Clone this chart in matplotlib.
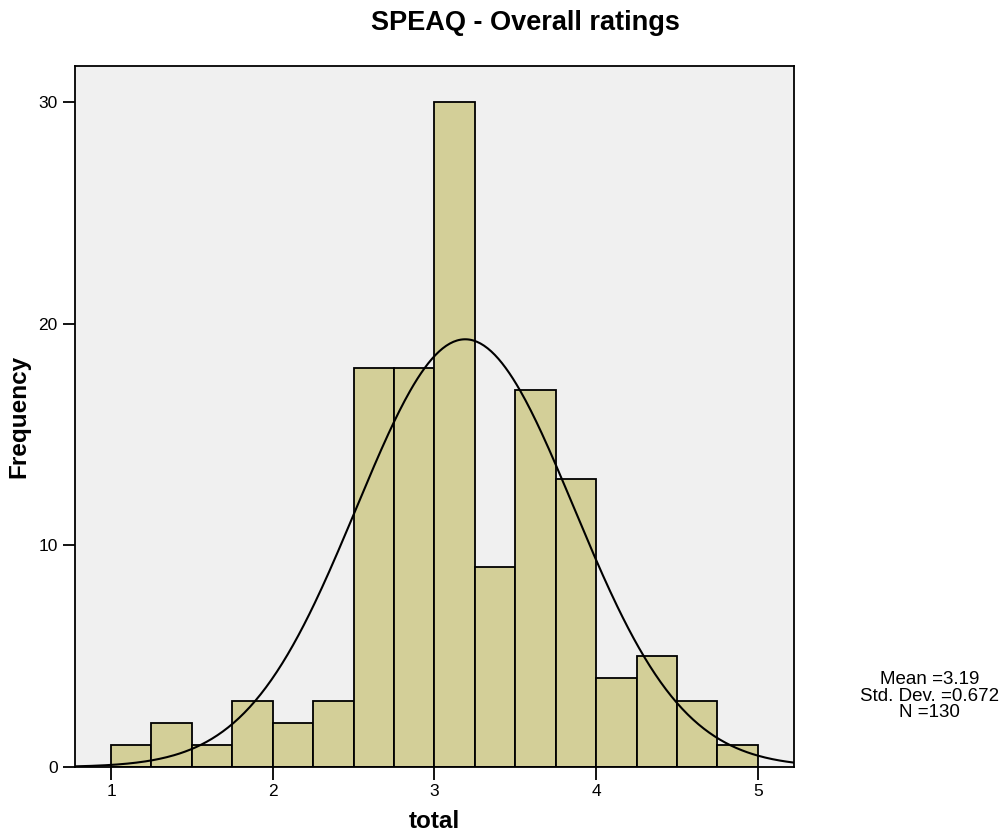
import numpy as np
import matplotlib
matplotlib.use("Agg")
import matplotlib.pyplot as plt

plt.rcParams['font.family'] = ['Liberation Sans', 'DejaVu Sans']

# histogram bins (width 0.25) and counts
bin_edges = [1.0, 1.25, 1.5, 1.75, 2.0, 2.25, 2.5, 2.75, 3.0,
             3.25, 3.5, 3.75, 4.0, 4.25, 4.5, 4.75, 5.0]
counts = [1, 2, 1, 3, 2, 3, 18, 18, 30, 9, 17, 13, 4, 5, 3, 1]

mean = 3.19
sd = 0.672
n = 130

fig = plt.figure(figsize=(10.04, 8.38), dpi=100)
ax = fig.add_axes([0.0747, 0.0847, 0.7161, 0.8365])
ax.set_facecolor('#f0f0f0')

lefts = bin_edges[:-1]
widths = np.diff(bin_edges)
ax.bar(lefts, counts, width=widths, align='edge', color='#d3cf98',
       edgecolor='black', linewidth=1.3, zorder=2)

xmin, xmax = 0.777, 5.223
xs = np.linspace(xmin, xmax, 400)
bw = 0.25
ys = n * bw / (sd * np.sqrt(2 * np.pi)) * np.exp(-0.5 * ((xs - mean) / sd) ** 2)
ax.plot(xs, ys, color='black', linewidth=1.5, zorder=3)

ax.set_xlim(xmin, xmax)
ax.set_ylim(0, 31.62)
ax.set_xticks([1, 2, 3, 4, 5])
ax.set_yticks([0, 10, 20, 30])
ax.tick_params(axis='both', direction='out', length=9, width=1.3,
               labelsize=12.5, colors='black')
for s in ax.spines.values():
    s.set_linewidth(1.3)

ax.set_xlabel('total', fontsize=17.5, fontweight='bold', labelpad=8)
ax.set_ylabel('Frequency', fontsize=17.5, fontweight='bold', labelpad=6)
fig.text(0.523, 0.972, 'SPEAQ - Overall ratings', ha='center', va='center',
         fontsize=19.5, fontweight='bold')

fig.text(0.926, 0.169, 'Mean =%.2f\nStd. Dev. =%.3f\nN =%d' % (mean, sd, n),
         ha='center', va='center', fontsize=13.5, linespacing=0.97)

fig.savefig('out.png', dpi=100)
